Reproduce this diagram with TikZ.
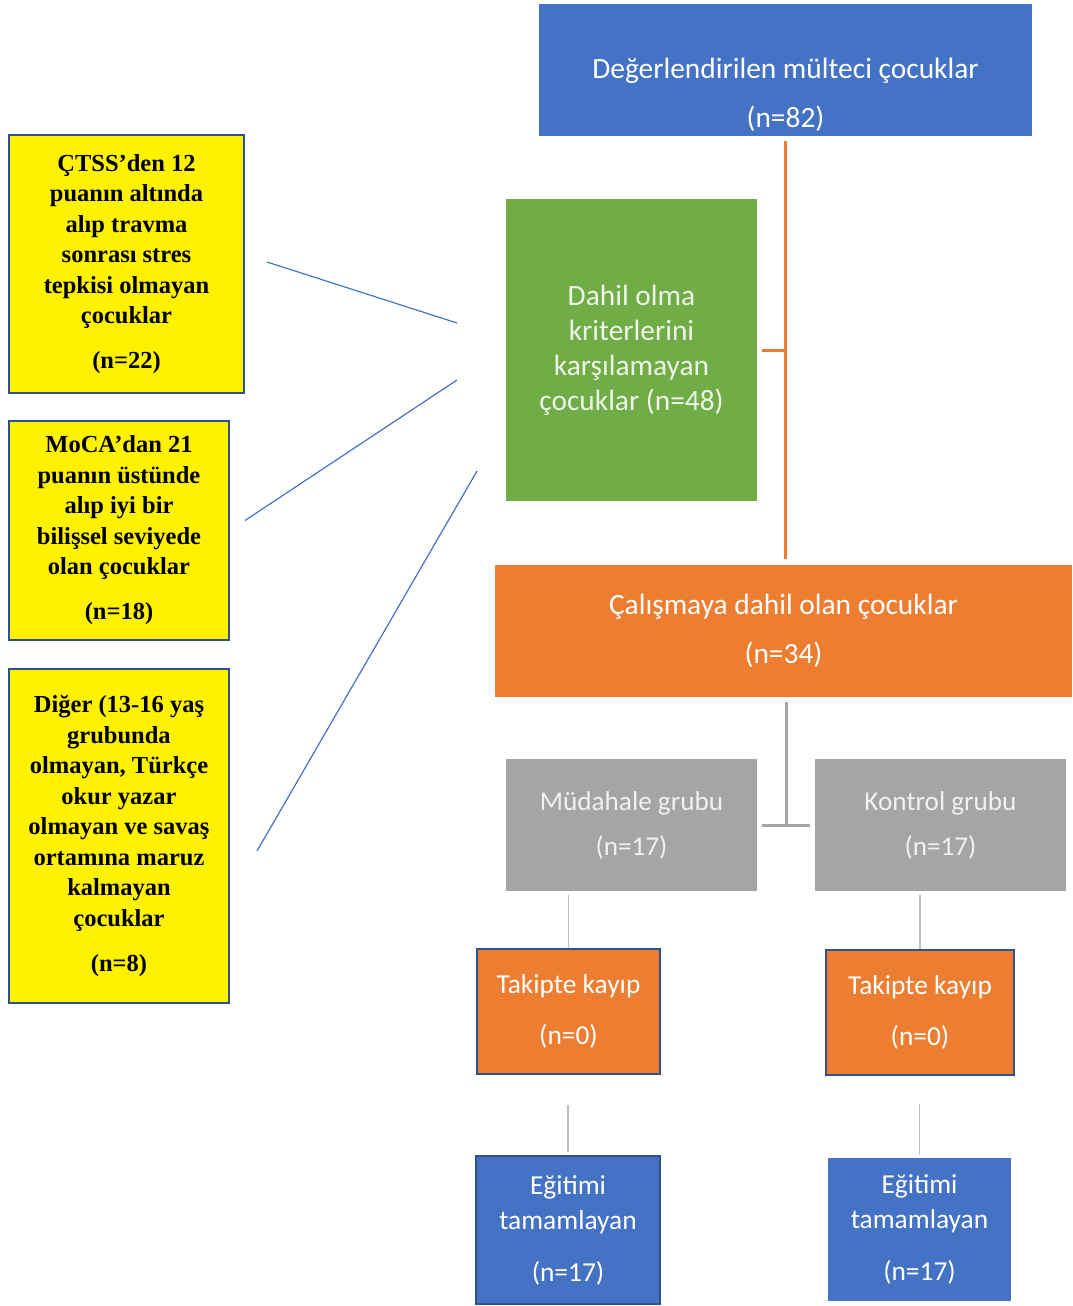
\documentclass[tikz,border=0pt]{standalone}
\usepackage{fontspec}
\setmainfont{Carlito}
\newfontfamily\trfont{Liberation Serif}
\definecolor{boxblue}{HTML}{4472C4}
\definecolor{boxgreen}{HTML}{70AD47}
\definecolor{boxorange}{HTML}{ED7D31}
\definecolor{boxgray}{HTML}{A5A5A5}
\definecolor{edgeblue}{HTML}{2F528F}
\definecolor{thingray}{HTML}{BFBFBF}
\begin{document}
\begin{tikzpicture}[x=0.5pt,y=-0.5pt,
 box/.style={rectangle,inner sep=2pt,align=center,text=white},
 bluebox/.style={box,fill=boxblue},
 greenbox/.style={box,fill=boxgreen,text=white!88!boxgreen},
 orangebox/.style={box,fill=boxorange},
 graybox/.style={box,fill=boxgray,text=white!85!boxgray},
 framed/.style={draw=edgeblue,line width=1pt},
 crit/.style={rectangle,draw=edgeblue,line width=1pt,fill=yellow,inner sep=2pt,align=center,
  font=\trfont\bfseries\fontsize{12.25}{15.25}\selectfont},
 linkO/.style={draw=boxorange,line width=1.5pt},
 linkG/.style={draw=boxgray,line width=1.5pt},
 linkT/.style={draw=thingray,line width=0.6pt},
 linkB/.style={draw=boxblue,line width=0.6pt}]
 \useasboundingbox (0,0) rectangle (1072,1306);
 \node[bluebox,minimum width=246.5pt,minimum height=66pt] (eval) at (785.5,70) {};
 \node[box,font=\fontsize{14.7}{24.5}\selectfont] (evaltxt) at (785.5,94.5)
  {Değerlendirilen mülteci çocuklar\\(n=82)};
 \node[greenbox,minimum width=125.5pt,minimum height=151pt,font=\fontsize{14.7}{17.5}\selectfont]
  (excl) at (631.5,350) {Dahil olma\\kriterlerini\\karşılamayan\\çocuklar (n=48)};
 \node[orangebox,minimum width=288.5pt,minimum height=66pt,font=\fontsize{14.7}{24.5}\selectfont]
  (incl) at (783.5,630.5) {Çalışmaya dahil olan çocuklar\\(n=34)};
 \node[graybox,minimum width=125.5pt,minimum height=66pt,font=\fontsize{13.6}{22.5}\selectfont]
  (mud) at (631.5,825) {Müdahale grubu\\(n=17)};
 \node[graybox,minimum width=125.5pt,minimum height=66pt,font=\fontsize{13.6}{22.5}\selectfont]
  (kont) at (940.5,825) {Kontrol grubu\\(n=17)};
 \node[orangebox,framed,minimum width=91.5pt,minimum height=62.5pt,font=\fontsize{13.7}{25.5}\selectfont]
  (kayipA) at (568.5,1011.5) {Takipte kayıp\\(n=0)};
 \node[orangebox,framed,minimum width=94pt,minimum height=62.5pt,font=\fontsize{13.7}{25.5}\selectfont]
  (kayipB) at (920,1012.5) {Takipte kayıp\\(n=0)};
 \node[bluebox,framed,minimum width=92pt,minimum height=74pt,font=\fontsize{13.7}{17.5}\selectfont]
  (egitA) at (568,1230) {Eğitimi\\tamamlayan\\[8.5pt](n=17)};
 \node[bluebox,minimum width=91.5pt,minimum height=71.5pt,font=\fontsize{13.7}{17.5}\selectfont]
  (egitB) at (919.5,1229.5) {Eğitimi\\tamamlayan\\[8.5pt](n=17)};
 \node[crit,minimum width=117.5pt,minimum height=129pt] (ctss) at (126.5,264)
  {ÇTSS’den 12\\puanın altında\\alıp travma\\sonrası stres\\tepkisi olmayan\\çocuklar\\[7.25pt](n=22)};
 \node[crit,minimum width=110pt,minimum height=109.5pt] (moca) at (119,530.5)
  {MoCA’dan 21\\puanın üstünde\\alıp iyi bir\\bilişsel seviyede\\olan çocuklar\\[7.25pt](n=18)};
 \node[crit,minimum width=110pt,minimum height=167pt] (diger) at (119,836)
  {Diğer (13-16 yaş\\grubunda\\olmayan, Türkçe\\okur yazar\\olmayan ve savaş\\ortamına maruz\\kalmayan\\çocuklar\\[7.25pt](n=8)};
 \coordinate (split) at (786,825);
 \coordinate (c1) at (457,323);
 \coordinate (c2) at (457,380);
 \coordinate (c3) at (477,471);
 \draw[linkO,shorten <=2.5pt,shorten >=2.5pt] (eval.south) -- (eval.south |- incl.north);
 \draw[linkO,shorten <=2.5pt] (excl.east) -- (excl.east -| eval.south);
 \draw[linkG,shorten <=2.5pt] (incl.south -| split) -- (split);
 \draw[linkG,shorten <=2.5pt,shorten >=2.5pt] (mud.east) -- (kont.west);
 \draw[linkT,shorten >=2pt] (kayipA.north) -- (kayipA.north |- mud.south);
 \draw[linkT,shorten >=2pt] (kayipB.north) -- (kayipB.north |- kont.south);
 \draw[linkT,shorten <=1.5pt,shorten >=15pt] (egitA.north) -- (egitA.north |- kayipA.south);
 \draw[linkT,shorten <=1.5pt,shorten >=14pt] (egitB.north) -- (egitB.north |- kayipB.south);
 \draw[linkB] ([xshift=11pt,yshift=1pt]ctss.east) -- (c1);
 \draw[linkB] ([xshift=7.5pt,yshift=5pt]moca.east) -- (c2);
 \draw[linkB] ([xshift=13.5pt,yshift=-7.5pt]diger.east) -- (c3);
\end{tikzpicture}
\end{document}
